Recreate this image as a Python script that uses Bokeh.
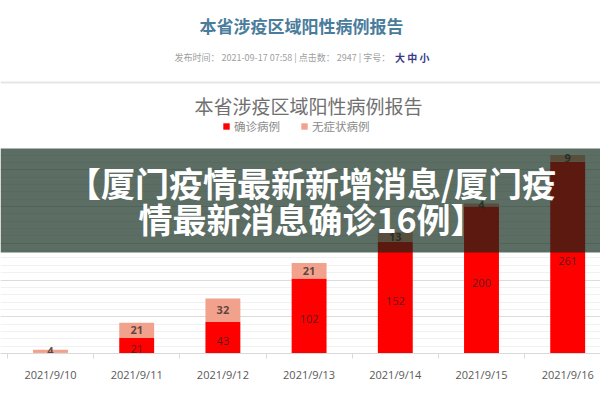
from bokeh.plotting import figure
from bokeh.models import (Range1d, FixedTicker, SingleIntervalTicker, BoxAnnotation,
                          Label, Span, Legend, LegendItem, ColumnDataSource)
from bokeh.core.properties import value
from bokeh.embed import file_html
from bokeh.resources import INLINE

# ---------------- data ----------------
dates = ["2021/9/10", "2021/9/11", "2021/9/12", "2021/9/13",
         "2021/9/14", "2021/9/15", "2021/9/16"]
confirmed = [1, 21, 43, 102, 152, 200, 261]
asymptomatic = [4, 21, 32, 21, 13, 4, 9]
series_names = ["确诊病例", "无症状病例"]

page_title = "本省涉疫区域阳性病例报告"
meta_text = "发布时间： 2021-09-17 07:58  |  点击数： 2947  |  字号："
size_text = "大 中 小"
chart_title = "本省涉疫区域阳性病例报告"
banner_lines = ["【厦门疫情最新新增消息/厦门疫", "情最新消息确诊16例】"]

# ---------------- layout constants (pixels) ----------------
W, H = 600, 400
BASE_PX = 353          # pixel row of the value-axis zero line
PX_PER_UNIT = 0.735    # vertical pixels per case
CAT_PX = 86.2          # pixels per category
FIRST_PX = 50          # pixel column of the first category centre

RED = "#fe0000"
SALMON = "#f2a28c"

x_start = -FIRST_PX / CAT_PX
x_end = x_start + W / CAT_PX
y_end = BASE_PX / PX_PER_UNIT


def xd(px):
    return x_start + px / CAT_PX


def yd(py):
    return (BASE_PX - py) / PX_PER_UNIT


p = figure(width=W, height=H, x_range=Range1d(x_start, x_end), y_range=Range1d(0, y_end),
           output_backend="svg", toolbar_location=None, y_axis_location=None,
           min_border_left=0, min_border_right=0, min_border_top=0,
           min_border_bottom=H - BASE_PX, outline_line_color=None,
           background_fill_color="white", border_fill_color="white")

# grid
p.xgrid.visible = False
g = p.ygrid[0]
g.ticker = SingleIntervalTicker(interval=50, num_minor_ticks=5)
g.bounds = (0, 275)
g.grid_line_color = "#dcdcdc"
g.minor_grid_line_color = "#f1f1f1"

# x axis
ax = p.xaxis[0]
ax.ticker = FixedTicker(ticks=list(range(len(dates))),
                        minor_ticks=[i + 0.5 for i in range(-1, len(dates))])
ax.major_label_overrides = {i: d for i, d in enumerate(dates)}
ax.major_tick_line_color = None
ax.major_tick_out = 0
ax.major_tick_in = 0
ax.minor_tick_out = 5
ax.minor_tick_in = 0
ax.minor_tick_line_color = "#d9d9d9"
ax.axis_line_color = "#d9d9d9"
ax.major_label_text_font = "Open Sans"
ax.major_label_text_font_size = "11px"
ax.major_label_text_color = "#595959"
ax.major_label_standoff = 8

# bars
src = ColumnDataSource(dict(
    x=list(range(len(dates))),
    confirmed=confirmed,
    asym=asymptomatic,
    c_mid=[c / 2 for c in confirmed],
    a_mid=[c + a / 2 for c, a in zip(confirmed, asymptomatic)],
    c_lbl=[str(c) for c in confirmed],
    a_lbl=[str(a) for a in asymptomatic],
))
rs = p.vbar_stack(["confirmed", "asym"], x="x", width=0.405, color=[RED, SALMON],
                  line_color=None, source=src)

p.text(x="x", y="c_mid", text="c_lbl", source=src, text_align="center",
       text_baseline="middle", text_font=value("Open Sans"), text_font_size="11px",
       text_color="#3a2020", text_alpha=0.85, y_offset=3)
p.text(x="x", y="a_mid", text="a_lbl", source=src, text_align="center",
       text_baseline="middle", text_font=value("Open Sans"), text_font_size="11px",
       text_font_style="bold", text_color="#4a3a36", text_alpha=0.9)

# legend
legend = Legend(items=[LegendItem(label=series_names[0], renderers=[rs[0]]),
                       LegendItem(label=series_names[1], renderers=[rs[1]])],
                orientation="horizontal", location=(222, BASE_PX - 134),
                glyph_width=8, glyph_height=8, label_standoff=4, spacing=20,
                padding=0, margin=0, border_line_color=None, background_fill_alpha=0,
                label_text_font="Noto Sans CJK SC", label_text_font_size="11.5px",
                label_text_color="#8a8a8a", label_height=14)
p.add_layout(legend)

# page decorations
p.add_layout(Label(x=xd(301), y=yd(25), text=page_title, text_align="center",
                   text_baseline="middle", text_font="Noto Sans CJK SC",
                   text_font_style="bold", text_font_size="17px", text_color="#4a7c9c"))
p.add_layout(Label(x=xd(174), y=yd(57), text=meta_text, text_align="left",
                   text_baseline="middle", text_font="Noto Sans CJK SC",
                   text_font_size="9px", text_color="#a0a0a0"))
p.add_layout(Label(x=xd(429), y=yd(57), text=size_text, text_align="right",
                   text_baseline="middle", text_font="Noto Sans CJK SC",
                   text_font_style="bold", text_font_size="10px", text_color="#3a3a8a"))
p.add_layout(Span(location=yd(82), dimension="width", line_color="#e6e6e6", line_width=2))
p.add_layout(Label(x=xd(308), y=yd(105), text=chart_title, text_align="center",
                   text_baseline="middle", text_font="Noto Sans CJK SC",
                   text_font_size="19px", text_color="#707070"))
p.add_layout(Span(location=yd(382), dimension="width", line_color="#dcdcdc", line_width=1))

# banner overlay
p.add_layout(BoxAnnotation(top=yd(148), bottom=yd(252), fill_color="#0c2616",
                           fill_alpha=0.67, line_color=None))
for line, py in zip(banner_lines, [182, 218]):
    p.add_layout(Label(x=xd(311), y=yd(py), text=line, text_align="center",
                       text_baseline="middle", text_font="Noto Sans CJK SC",
                       text_font_style="bold", text_font_size="34px", text_color="white"))

open("out.html", "w").write(file_html(p, INLINE))
